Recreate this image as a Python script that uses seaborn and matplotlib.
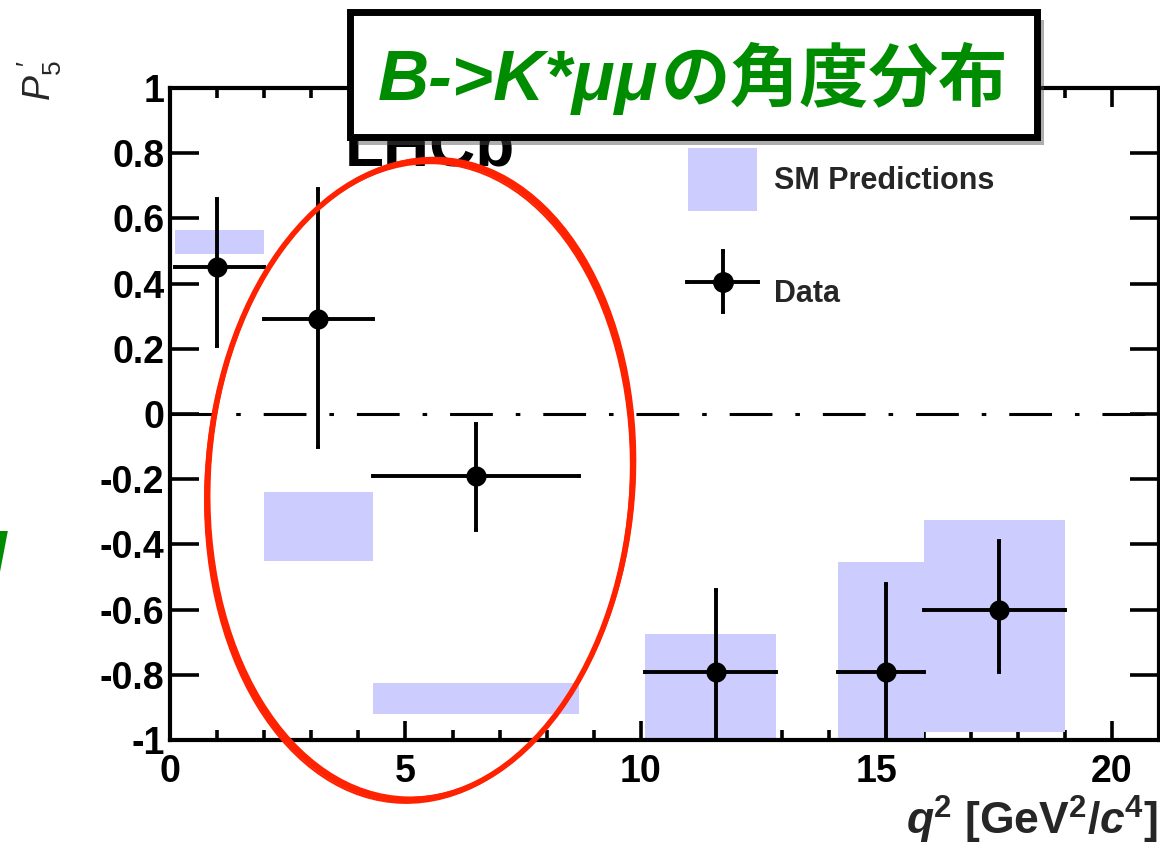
import numpy as np
import matplotlib
matplotlib.use("Agg")
import matplotlib.pyplot as plt
import seaborn as sns
from matplotlib.patches import Patch, Ellipse, FancyBboxPatch
from matplotlib.lines import Line2D
from matplotlib.container import ErrorbarContainer
from matplotlib.legend_handler import HandlerErrorbar, HandlerTuple
from matplotlib.ticker import FixedLocator, MultipleLocator, FuncFormatter
import matplotlib.patheffects as pe

# q^2 bins
q2_lo = [0.1, 2.0, 4.3, 10.09, 14.18, 16.0]
q2_hi = [2.0, 4.3, 8.68, 12.86, 16.0, 19.0]
q2_mid = [1.0, 3.15, 6.5, 11.6, 15.2, 17.6]

# measured P5'
p5 = [0.45, 0.29, -0.19, -0.79, -0.79, -0.60]
p5_up = [0.21, 0.40, 0.16, 0.25, 0.27, 0.21]
p5_dn = [0.24, 0.39, 0.165, 0.25, 0.25, 0.19]

# SM prediction bands
sm_lo = [0.49, -0.45, -0.92, -1.0, -1.0, -0.975]
sm_hi = [0.565, -0.24, -0.825, -0.675, -0.455, -0.325]

title_latin = "B->K*μμ"
title_jp = "の角度分布"

sns.set_theme(style="ticks")
plt.rcParams["font.family"] = ["Liberation Sans", "DejaVu Sans"]
plt.rcParams["mathtext.fontset"] = "custom"
plt.rcParams["mathtext.rm"] = "Liberation Sans"
plt.rcParams["mathtext.it"] = "Liberation Sans:italic"
plt.rcParams["mathtext.bf"] = "Liberation Sans:bold"
plt.rcParams["mathtext.bfit"] = "Liberation Sans:bold:italic"

W, H = 1160, 846
fig = plt.figure(figsize=(11.6, 8.46), dpi=100)
ax = fig.add_axes([170 / W, 1 - 740 / H, 989 / W, 652 / H])

# SM boxes
ax.bar(x=q2_lo, height=np.array(sm_hi) - np.array(sm_lo),
       width=np.array(q2_hi) - np.array(q2_lo), bottom=sm_lo,
       align="edge", color="#ccccff", edgecolor="none", zorder=1)

# zero line
ax.axhline(0, color="black", lw=2.2, ls=(0, (14, 7.5, 1.5, 7.5)), zorder=2)

# data
xerr = [np.array(q2_mid) - np.array(q2_lo), np.array(q2_hi) - np.array(q2_mid)]
err = ax.errorbar(q2_mid, p5, xerr=xerr, yerr=[p5_dn, p5_up], fmt="none",
                  ecolor="black", elinewidth=2.8, capsize=1.5, capthick=2.8,
                  zorder=3)
sns.scatterplot(x=q2_mid, y=p5, ax=ax, color="black", s=210,
                edgecolor="black", linewidth=0, zorder=4)

ax.set_xlim(0, 21)
ax.set_ylim(-1, 1)
ax.xaxis.set_major_locator(FixedLocator([0, 5, 10, 15, 20]))
ax.xaxis.set_minor_locator(MultipleLocator(1))
ax.yaxis.set_major_locator(FixedLocator(np.round(np.arange(-1, 1.01, 0.2), 1)))


def yfmt(v, pos):
    v = round(v, 1)
    if abs(v - round(v)) < 1e-9:
        return f"{int(round(v))}"
    return f"{v:g}"


ax.yaxis.set_major_formatter(FuncFormatter(yfmt))
ax.tick_params(axis="both", which="both", direction="in", top=True, right=True,
               width=2.6, color="black")
ax.tick_params(axis="x", which="major", length=14, pad=10)
ax.tick_params(axis="x", which="minor", length=7)
ax.tick_params(axis="y", which="major", length=21, pad=4)
for lab in ax.get_xticklabels() + ax.get_yticklabels():
    lab.set_fontweight("bold")
    lab.set_fontsize(27)
    lab.set_color("black")
for s in ax.spines.values():
    s.set_linewidth(3)
    s.set_color("black")
ax.set_xlabel("")
ax.set_ylabel("")

# legend
handles = [Patch(facecolor="#ccccff", edgecolor="none"),
           (err, Line2D([], [], marker="o", ls="none", color="black", ms=14))]
leg = ax.legend(handles, ["SM Predictions", "Data"], loc="upper left",
                bbox_to_anchor=(0.524, 0.908), frameon=False, borderpad=0,
                borderaxespad=0, handlelength=2.25, handleheight=2.8,
                labelspacing=1.65, handletextpad=0.55,
                prop={"weight": "bold", "size": 22},
                handler_map={ErrorbarContainer: HandlerErrorbar(xerr_size=1.15, yerr_size=1.0),
                             tuple: HandlerTuple(ndivide=1)})

# LHCb label
fig.text(345 / W, 1 - 165 / H, "LHCb", fontsize=46, fontweight="bold",
         ha="left", va="baseline", color="black")

# axis titles
fig.text(1158 / W, 1 - 835 / H,
         r"$\mathbfit{q}^{\mathbf{2}}$ [GeV$^{\mathbf{2}}$/$\mathbfit{c}^{\mathbf{4}}$]",
         fontsize=32, fontweight="bold", ha="right", va="baseline")
fig.text(40 / W, 1 - 80 / H, r"$P_{5}^{\ \prime}$", fontsize=27, rotation=90,
         ha="center", va="center")

# title box
box = FancyBboxPatch((350 / W, 1 - 137 / H), 687 / W, 125 / H,
                     boxstyle="square,pad=0", transform=fig.transFigure,
                     facecolor="white", edgecolor="black", linewidth=5,
                     zorder=10,
                     path_effects=[pe.SimplePatchShadow(offset=(5, -6), alpha=0.45),
                                   pe.Normal()])
fig.add_artist(box)
green = "#008c00"
t1 = fig.text(378 / W, 1 - 100 / H, title_latin, fontsize=51, fontweight="bold",
              fontstyle="italic", color=green, ha="left", va="baseline",
              family=["Liberation Sans", "DejaVu Sans"], zorder=11)
fig.canvas.draw()
bb = t1.get_window_extent()
fig.text(bb.x1 / W + 0.002, 1 - 100 / H, title_jp, fontsize=50, fontweight="bold",
         color=green, ha="left", va="baseline",
         family=["Noto Sans CJK JP", "DejaVu Sans"], zorder=11)

# stray green glyph at the left edge (cut off in the source image)
fig.text(-11 / W, 1 - 578 / H, "l", fontsize=46, fontweight="bold",
         fontstyle="italic", color=green, ha="left", va="baseline")

# red ellipse
for dx, dy, lw in [(0, 0, 4.0), (2, -2, 2.0), (-2, 3, 1.5)]:
    e = Ellipse(((420 + dx) / W, 1 - (480 + dy) / H), 425 / W, 640 / H, angle=-2,
                transform=fig.transFigure, fill=False, edgecolor="#ff2200",
                linewidth=lw, zorder=9)
    fig.add_artist(e)

fig.savefig("out.png", dpi=100)
